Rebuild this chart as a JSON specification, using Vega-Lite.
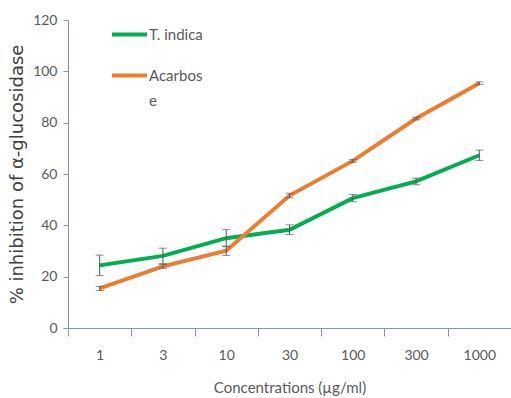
{
  "$schema": "https://vega.github.io/schema/vega-lite/v6.json",
  "width": 443,
  "height": 308,
  "autosize": {"type": "none"},
  "padding": {"left": 68, "top": 20, "right": 0, "bottom": 70},
  "background": "white",
  "config": {
    "view": {"stroke": null},
    "font": "Lato",
    "style": {"guide-label": {"lineHeight": 25}}
  },
  "data": {
    "values": [
      {"series": "T. indica", "conc": "1", "value": 24.4, "err": 4.0},
      {"series": "T. indica", "conc": "3", "value": 28.1, "err": 3.0},
      {"series": "T. indica", "conc": "10", "value": 35.0, "err": 3.3},
      {"series": "T. indica", "conc": "30", "value": 38.3, "err": 1.9},
      {"series": "T. indica", "conc": "100", "value": 50.6, "err": 1.4},
      {"series": "T. indica", "conc": "300", "value": 57.1, "err": 1.3},
      {"series": "T. indica", "conc": "1000", "value": 67.3, "err": 2.0},
      {"series": "Acarbose", "conc": "1", "value": 15.4, "err": 0.8},
      {"series": "Acarbose", "conc": "3", "value": 24.0, "err": 0.7},
      {"series": "Acarbose", "conc": "10", "value": 30.1, "err": 1.8},
      {"series": "Acarbose", "conc": "30", "value": 51.6, "err": 0.9},
      {"series": "Acarbose", "conc": "100", "value": 65.1, "err": 0.5},
      {"series": "Acarbose", "conc": "300", "value": 81.6, "err": 0.5},
      {"series": "Acarbose", "conc": "1000", "value": 95.4, "err": 0.5}
    ]
  },
  "encoding": {
    "x": {
      "field": "conc",
      "type": "ordinal",
      "sort": ["1", "3", "10", "30", "100", "300", "1000"],
      "scale": {"type": "band", "paddingInner": 0, "paddingOuter": 0},
      "title": "Concentrations (µg/ml)",
      "axis": {
        "labelAngle": 0,
        "tickBand": "extent",
        "domainColor": "#8497b0",
        "tickColor": "#8497b0",
        "tickSize": 8,
        "labelFontSize": 14,
        "labelColor": "#595959",
        "labelPadding": 12,
        "titleFontSize": 15,
        "titleColor": "#595959",
        "titleFontWeight": "normal",
        "titlePadding": 18
      }
    }
  },
  "layer": [
    {
      "mark": {"type": "line", "strokeWidth": 4},
      "encoding": {
        "y": {
          "field": "value",
          "type": "quantitative",
          "scale": {"domain": [0, 120]},
          "title": "% inhibition of α-glucosidase",
          "axis": {
            "values": [0, 20, 40, 60, 80, 100, 120],
            "grid": false,
            "domainColor": "#8497b0",
            "tickColor": "#8497b0",
            "tickSize": 5,
            "labelFontSize": 14,
            "labelColor": "#595959",
            "labelPadding": 6,
            "titleFont": "DejaVu Sans",
            "titleFontSize": 18,
            "titleColor": "#404040",
            "titleFontWeight": "normal",
            "titlePadding": 6
          }
        },
        "color": {
          "field": "series",
          "type": "nominal",
          "scale": {"domain": ["T. indica", "Acarbose"], "range": ["#00b050", "#ed7d31"]},
          "legend": {
            "title": null,
            "orient": "none",
            "legendX": 42,
            "legendY": -5,
            "symbolType": "stroke",
            "symbolSize": 1225,
            "symbolStrokeWidth": 4,
            "labelFontSize": 15,
            "labelColor": "#595959",
            "labelOffset": 0,
            "rowPadding": 13,
            "labelExpr": "datum.label == 'Acarbose' ? ['Acarbos', 'e'] : datum.label"
          }
        }
      }
    },
    {
      "mark": {"type": "errorbar", "ticks": {"size": 8}, "color": "#595959", "thickness": 1},
      "encoding": {
        "y": {"field": "value", "type": "quantitative", "title": "% inhibition of α-glucosidase"},
        "yError": {"field": "err"},
        "detail": {"field": "series"}
      }
    }
  ]
}
